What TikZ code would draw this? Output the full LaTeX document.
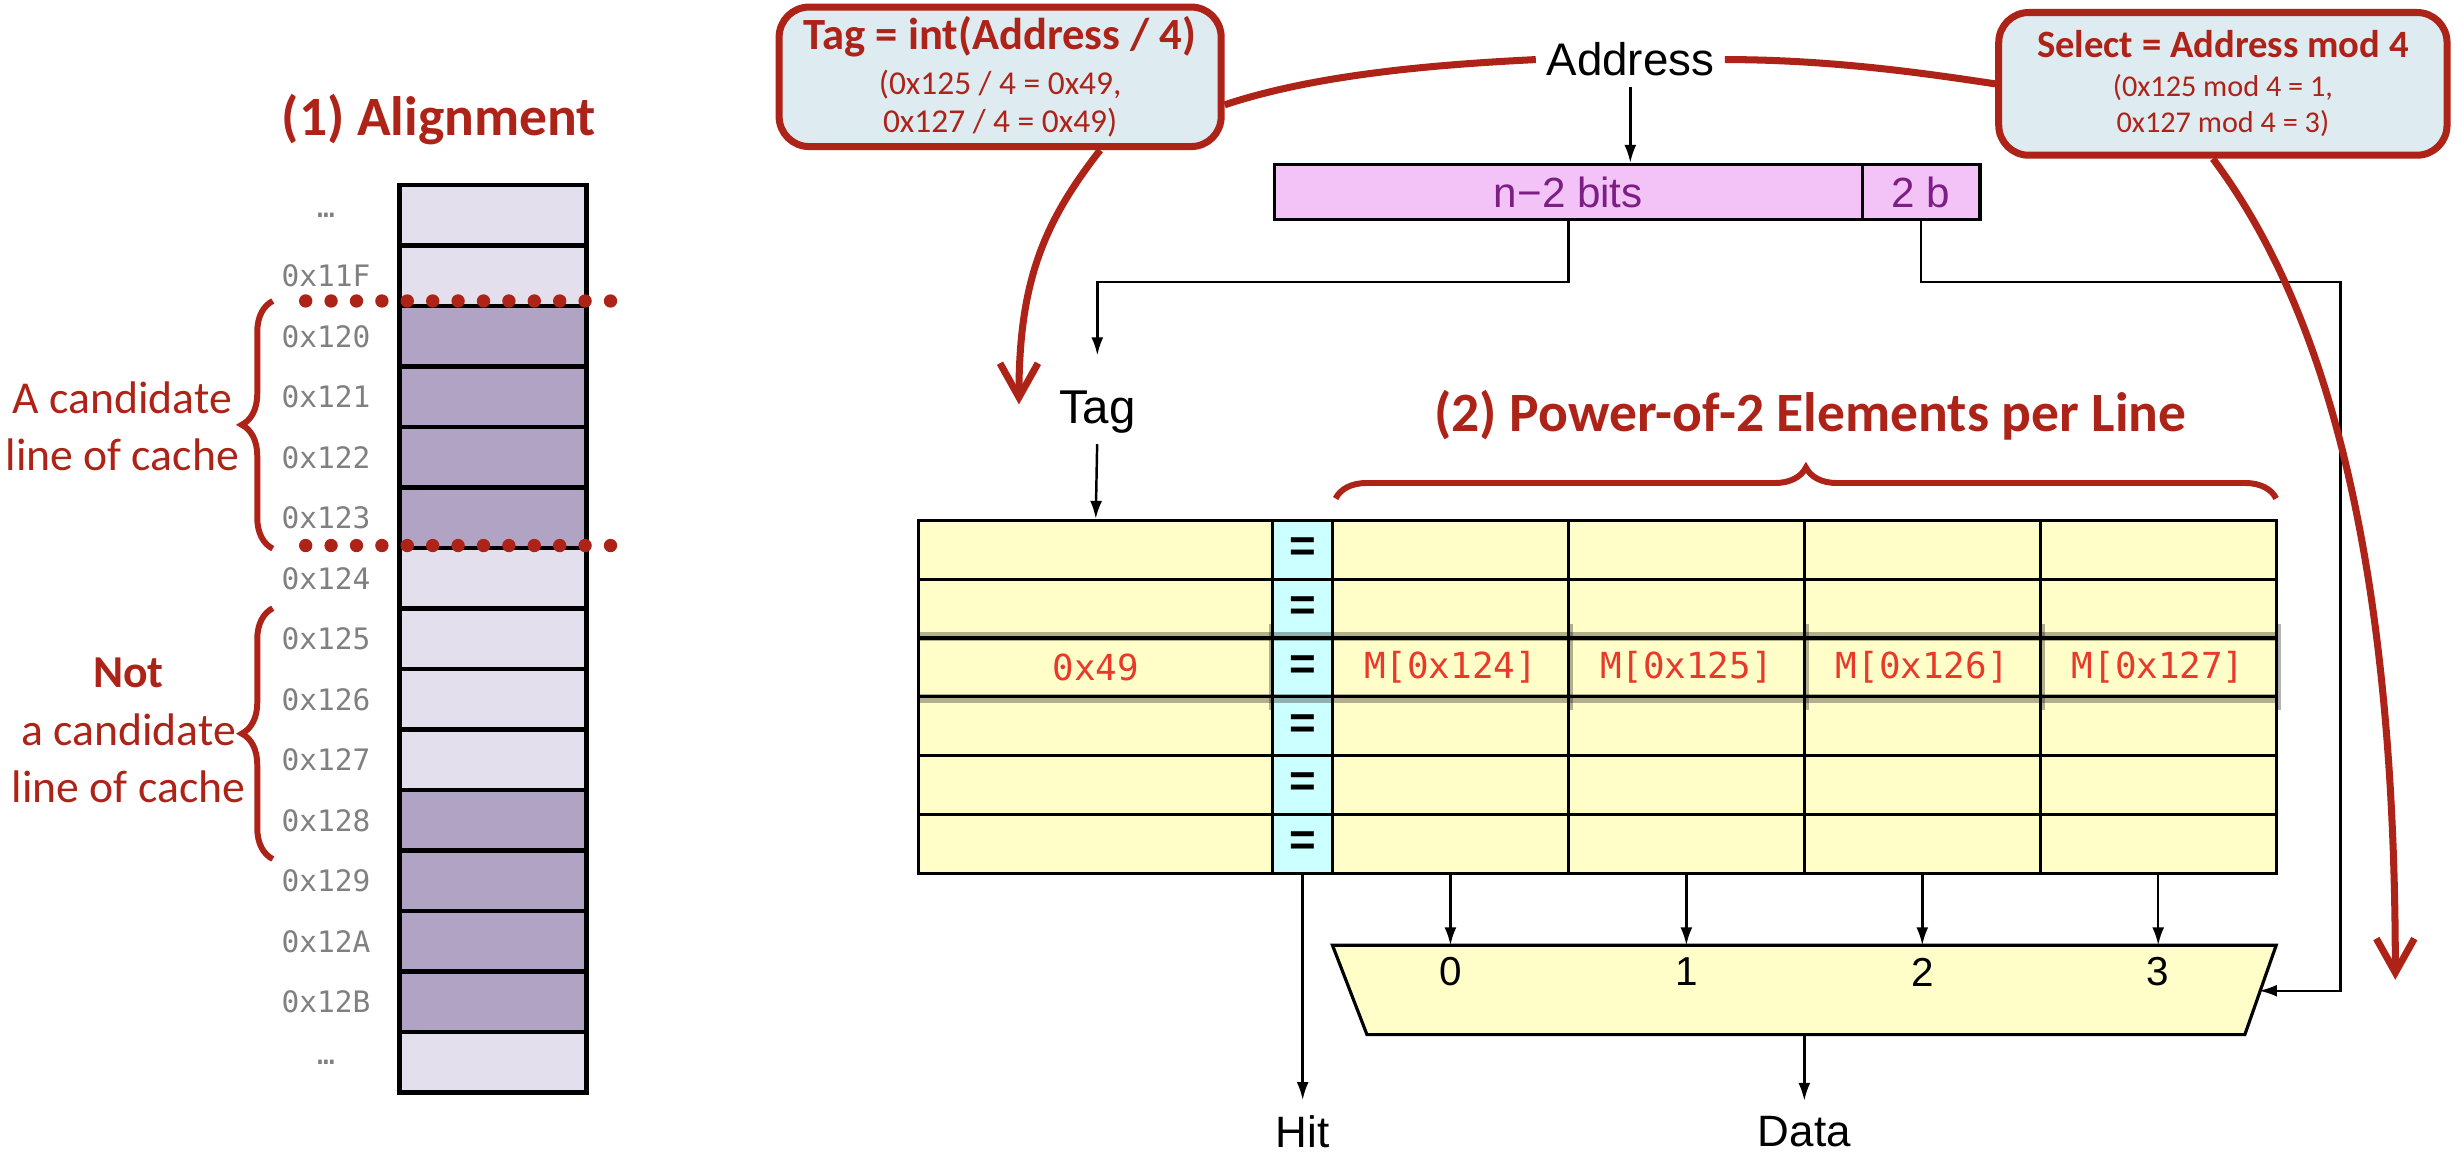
\documentclass[tikz,border=0pt]{standalone}
\usepackage{fontspec}
\setmainfont{Carlito}
\newfontfamily\arialfont{Liberation Sans}
\newfontfamily\codefont{DejaVu Sans Mono}
\usetikzlibrary{positioning,arrows.meta,decorations.pathreplacing}

\definecolor{dkred}{RGB}{174,35,24}
\definecolor{boxblue}{RGB}{222,235,240}
\definecolor{lav}{RGB}{228,223,236}
\definecolor{dklav}{RGB}{177,163,196}
\definecolor{lblgray}{RGB}{128,128,128}
\definecolor{pinkbox}{RGB}{243,195,248}
\definecolor{purp}{RGB}{125,30,133}
\definecolor{cellyel}{RGB}{255,253,200}
\definecolor{eqcyan}{RGB}{204,255,255}
\definecolor{valred}{RGB}{232,57,42}

\tikzset{
  memcell/.style={draw, line width=1.3pt, minimum width=18.65mm, minimum height=6.05mm, inner sep=0pt},
  memlbl/.style={text=lblgray, inner sep=0pt, font=\codefont\fontsize{8.4}{10}\selectfont},
  redtitle/.style={text=dkred, inner sep=0pt, font=\fontsize{15.8}{18}\selectfont\bfseries},
  redtxt/.style={text=dkred, inner sep=0pt, align=center, font=\fontsize{13}{16.3}\selectfont},
  redbrace/.style={draw=dkred, line width=1.7pt, decorate, decoration={brace, amplitude=3.1mm}},
  dotrow/.style={draw=dkred, line width=3.8pt, line cap=round, dash pattern=on 0pt off 2.54mm},
  callout/.style={draw=dkred, line width=2pt, rounded corners=3mm, fill=boxblue, text=dkred,
    align=center, inner sep=0pt},
  redline/.style={draw=dkred, line width=2pt},
  redarrow/.style={redline, -{Straight Barb[length=3.4mm, width=3.8mm]}},
  blktxt/.style={inner sep=0pt, font=\arialfont\fontsize{12.5}{14}\selectfont},
  fieldbox/.style={draw, line width=1pt, fill=pinkbox, text=purp, minimum height=5.49mm, inner sep=0pt,
    font=\arialfont\fontsize{12}{14}\selectfont},
  tagcell/.style={draw, line width=0.9pt, fill=cellyel, minimum width=35.43mm, minimum height=5.88mm, inner sep=0pt},
  eqcell/.style={draw, line width=0.9pt, fill=eqcyan, minimum width=5.96mm, minimum height=5.88mm, inner sep=0pt,
    font=\arialfont\bfseries\fontsize{13}{14}\selectfont},
  datcell/.style={draw, line width=0.9pt, fill=cellyel, minimum width=23.59mm, minimum height=5.88mm, inner sep=0pt},
  valtxt/.style={text=valred, inner sep=0pt, font=\codefont\fontsize{10.2}{12}\selectfont},
  hilite/.style={line width=2.6pt, black, opacity=0.3},
  muxbody/.style={draw, line width=0.9pt, fill=cellyel},
  muxnum/.style={inner sep=0pt, font=\arialfont\fontsize{11.5}{13}\selectfont},
  arr/.style={line width=0.7pt, -{Latex[length=1.8mm, width=1.2mm]}}
}

\begin{document}
\begin{tikzpicture}[x=0.15676mm, y=-0.15676mm]
\useasboundingbox (0,0) rectangle (1568,750);

% (1) memory column
\node[redtitle] (aligntitle) at (280,76) {(1) Alignment};
\foreach \lbl/\fc [count=\i from 0] in {…/lav, 0x11F/lav, 0x120/dklav, 0x121/dklav, 0x122/dklav, 0x123/dklav,
    0x124/lav, 0x125/lav, 0x126/lav, 0x127/lav, 0x128/dklav, 0x129/dklav, 0x12A/dklav, 0x12B/dklav, …/lav} {
  \node[memcell, fill=\fc] (m\i) at (314.5,137.3+38.6*\i) {};
  \node[memlbl] (l\i) at (208,137.3+38.6*\i) {\lbl};
}
\draw[dotrow] (195,192) -- (392,192);
\draw[dotrow] (195,348) -- (392,348);
\draw[redbrace] (174,350) -- (174,192);
\draw[redbrace] (174,548) -- (174,388);
\node[redtxt] (cand) at (78,272) {A candidate\\line of cache};
\node[redtxt] (notcand) at (82,466) {\textbf{Not}\\a candidate\\line of cache};

% callouts
\node[callout, minimum width=44.2mm, minimum height=13.95mm, font=\fontsize{9.5}{10.7}\selectfont] (tagbox) at (638,49)
  {{\fontsize{12.7}{14}\selectfont\bfseries Tag = int(Address / 4)}\\[2.2pt]
   (0x125 / 4 = 0x49,\\0x127 / 4 = 0x49)};
\node[callout, minimum width=44.83mm, minimum height=14.27mm, font=\fontsize{8.6}{10.3}\selectfont] (selbox) at (1418,53.5)
  {{\fontsize{11}{13}\selectfont\bfseries Select = Address mod 4}\\[0.8pt]
   (0x125 mod 4 = 1,\\0x127 mod 4 = 3)};

% address split
\node[blktxt, font=\arialfont\fontsize{13}{15}\selectfont] (addr) at (1040,38) {Address};
\node[fieldbox, minimum width=58.79mm] (nb) at (1000.5,122.5) {n−2 bits};
\node[fieldbox, minimum width=11.76mm] (b2) at (1225.5,122.5) {2 b};
\node[blktxt, font=\arialfont\fontsize{13.5}{15}\selectfont] (tag) at (700,263) {Tag};
\coordinate (selturn) at (1493,180);
\draw[arr, shorten <=1mm] (addr.south) -- (addr.south |- nb.north);
\draw[arr] (nb.south) |- (tag.north |- selturn) -- ([yshift=3.5mm]tag.north);

% (2) cache lines
\node[redtitle] (pow2) at (1155,265) {(2) Power-of-2 Elements per Line};
\foreach \r in {1,...,6} {
  \node[tagcell] (t\r) at (699,313.25+37.5*\r) {};
  \node[eqcell] (e\r) at (831,313.25+37.5*\r) {=};
  \foreach \c in {1,...,4}
    \node[datcell] (d\r\c) at (774.75+150.5*\c,313.25+37.5*\r) {};
}
% the looked-up line
\draw[hilite] (t3.north west) -- (d34.north east);
\draw[hilite] (t3.south west) -- (d34.south east);
\foreach \c in {1,...,4}
  \draw[hilite, line width=1.6pt] ([yshift=1.2mm]d3\c.north east) -- ([yshift=-1.2mm]d3\c.south east);
\draw[hilite, line width=1.6pt] ([yshift=1.2mm]e3.north west) -- ([yshift=-1.2mm]e3.south west);
\node[valtxt] (tv) at (t3) {0x49};
\foreach \c/\a in {1/124,2/125,3/126,4/127}
  \node[valtxt] (v\c) at (d3\c) {M[0x\a]};
\draw[redbrace] (852,318) -- (1452,318);
\draw[arr, shorten <=1mm] (tag.south) -- (t1.north);

% select mux
\coordinate (muxn) at (1151,603);
\coordinate (muxs) at (1151,660);
\coordinate (muxe) at (1441,632);
\draw[muxbody] (850,603) -- (1452,603) -- (1432,660) -- (872,660) -- cycle;
\coordinate (numrow) at (0,620);
\foreach \c [count=\n from 0] in {1,...,4} {
  \draw[arr] (d6\c.south) -- (d6\c.south |- muxn);
  \node[muxnum] (s\c) at (d6\c |- numrow) {\n};
}
\draw[arr] (b2.south) |- (selturn) |- (muxe);
\node[blktxt] (hit) at (831,722) {Hit};
\node[blktxt] (data) at (muxs |- hit) {Data};
\draw[arr] (e6.south) -- ([yshift=1.5mm]hit.north);
\draw[arr] (muxs) -- ([yshift=1.5mm]data.north);

% red pointers
\coordinate (tagtip) at (650,258);
\coordinate (seltip) at (1528,625);
\draw[redline] ([yshift=-2.8mm]tagbox.east) .. controls +(60,-20) and +(-60,3) .. ([xshift=-1mm]addr.west);
\draw[redline] ([xshift=1mm]addr.east) .. controls +(70,0) and +(-40,-6) .. (selbox.west);
\draw[redarrow] ([xshift=10mm]tagbox.south) .. controls +(-35,45) and +(0,-80) .. (tagtip);
\draw[redarrow] ([xshift=-1mm]selbox.south) .. controls +(60,80) and +(0,-300) .. (seltip);
\end{tikzpicture}
\end{document}
